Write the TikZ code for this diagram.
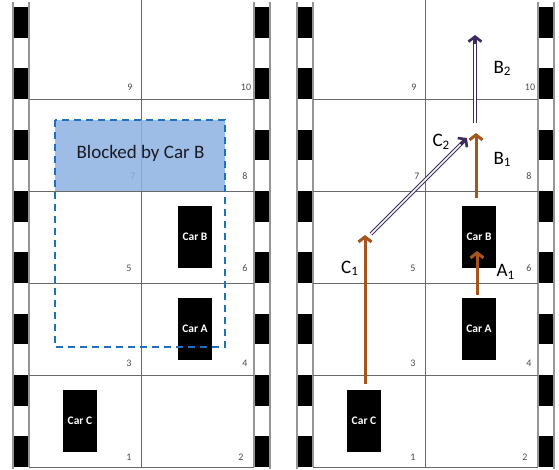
\documentclass[tikz,border=0pt]{standalone}
\usepackage{fontspec}
\setmainfont{Carlito}
\usetikzlibrary{arrows.meta,calc}
\definecolor{gridgray}{RGB}{105,105,105}
\definecolor{edgegray}{RGB}{150,150,150}
\definecolor{numgray}{RGB}{75,75,75}
\definecolor{moveorange}{RGB}{166,86,28}
\definecolor{movepurple}{RGB}{62,42,92}
\definecolor{blockblue}{RGB}{141,178,226}
\definecolor{dashblue}{RGB}{30,112,192}
% letter with a lowered index, e.g. C_1
\newcommand\movelabel[2]{#1\raisebox{-2.5pt}{\fontsize{13}{13}\selectfont #2}}
\begin{document}
\begin{tikzpicture}[x=1pt,y=-1pt,
  car/.style={fill=black, minimum width=34pt, minimum height=62pt, inner sep=0pt,
    text=white, font=\fontsize{11.5}{11.5}\selectfont\bfseries},
  cellnum/.style={text=numgray, font=\fontsize{10}{10}\selectfont, inner sep=0pt},
  lbl/.style={font=\fontsize{19}{19}\selectfont, anchor=base west, inner sep=0pt},
  solidmove/.style={draw=moveorange, line width=3pt,
    -{Straight Barb[length=5pt,width=13pt]}},
  doubleshaft/.style={draw=movepurple, double=white, line width=1.1pt,
    double distance=1.6pt, shorten >=4pt},
  doublehead/.style={draw=movepurple, line width=2.6pt,
    -{Straight Barb[length=5pt,width=13pt]}},
]
\useasboundingbox (0,0) rectangle (559,469);

% two identical parking panels, side by side
\foreach \dx in {0,284} {
  \begin{scope}[xshift=\dx pt]
    % striped kerbs
    \foreach \s in {0,...,7} {
      \fill[black] (13,7+\s*61.333) rectangle (29,7+\s*61.333+30.667);
      \fill[black] (254,7+\s*61.333) rectangle (270,7+\s*61.333+30.667);
    }
    \draw[edgegray, line width=1.2pt] (13,2) -- (13,469) (29,2) -- (29,467)
      (254,2) -- (254,467) (270,2) -- (270,469);
    % parking grid
    \draw[gridgray, line width=0.8pt] (141.5,0) -- (141.5,467);
    \foreach \yy in {99,191,283,375,467}
      \draw[gridgray, line width=0.8pt] (29,\yy) -- (254,\yy);
    % cell numbers
    \foreach \n/\xx/\yy in {9/130/87, 10/246/87, 7/133/176, 8/245/176,
        5/129/268, 6/245/268, 3/129/363, 4/245/363, 1/129/457, 2/241/457}
      \node[cellnum] (num\n-\dx) at (\xx,\yy) {\n};
  \end{scope}
}

% left panel: blocked zone and parked cars
\fill[blockblue, opacity=0.85] (55,120) rectangle (225,191);
\node[font=\fontsize{19}{19}\selectfont, text={rgb,255:red,25;green,25;blue,35},
  anchor=base, inner sep=0pt] (blocked) at (140.5,158.3) {Blocked by Car B};
\node[car] (carB) at (195,236.5) {Car B};
\node[car] (carA) at (195,329) {Car A};
\node[car] (carC) at (80,421) {Car C};
\draw[dashblue, line width=2pt, dash pattern=on 7pt off 5pt]
  (55,120) rectangle (225,347);

% right panel: cars and their moves
\node[car] (carB2) at (479,236.5) {Car B};
\node[car] (carA2) at (479,329) {Car A};
\node[car] (carC2) at (364,421) {Car C};

\coordinate (c1s) at (365,384);
\coordinate (c1e) at (365,235);
\coordinate (a1s) at (477,295);
\coordinate (a1e) at (477,251);
\coordinate (b1s) at (476,198);
\coordinate (b1e) at (476,133);
\coordinate (b2s) at (475,123);
\coordinate (b2e) at (475,35);
\coordinate (c2s) at (371,234);
\coordinate (c2e) at (467,138);

\draw[solidmove] (c1s) -- (c1e);
\draw[solidmove] (a1s) -- (a1e);
\draw[solidmove] (b1s) -- (b1e);

\draw[doubleshaft] (b2s) -- (b2e);
\draw[doublehead] ($(b2e)!9pt!(b2s)$) -- (b2e);
\draw[doubleshaft] (c2s) -- (c2e);
\draw[doublehead] ($(c2e)!9pt!(c2s)$) -- (c2e);

\node[lbl] (lc1) at (341,273.3) {\movelabel{C}{1}};
\node[lbl] (la1) at (496.3,276.7) {\movelabel{A}{1}};
\node[lbl] (lb1) at (493.3,164) {\movelabel{B}{1}};
\node[lbl] (lb2) at (493.3,73.3) {\movelabel{B}{2}};
\node[lbl] (lc2) at (432.3,146.7) {\movelabel{C}{2}};
\end{tikzpicture}
\end{document}
